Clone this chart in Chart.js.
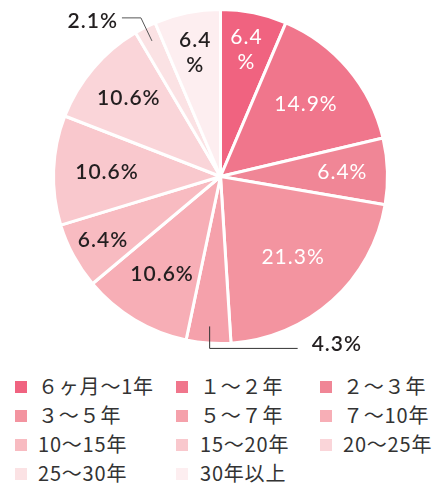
<!DOCTYPE html>
<html lang="ja">
<head>
<meta charset="utf-8">
<title>勤続年数</title>
<script src="https://cdn.jsdelivr.net/npm/chart.js@4.4.1/dist/chart.umd.min.js"></script>
<style>
  html, body { margin: 0; padding: 0; background: #fff; }
  body { width: 442px; height: 484px; position: relative; overflow: hidden; }
  #wrap { position: absolute; left: 0; top: 0; width: 442px; height: 360px; }
  #legend {
    position: absolute; left: 0; top: 372px; width: 442px;
    font-family: "Noto Sans CJK JP", sans-serif; font-size: 20px; color: #333;
  }
  .item { position: absolute; height: 28px; line-height: 28px; white-space: nowrap; letter-spacing: 0.8px; }
  .item i { position: absolute; top: 9px; width: 12px; height: 12px; }
  .item span { position: absolute; top: 0; }
</style>
</head>
<body>
<div id="wrap"><canvas id="pie"></canvas></div>
<div id="legend"></div>
<script>
// data
const categories = ['６ヶ月〜1年', '１〜２年', '２〜３年', '３〜５年', '５〜７年', '７〜10年',
  '10〜15年', '15〜20年', '20〜25年', '25〜30年', '30年以上'];
const shares = [6.4, 14.9, 6.4, 21.3, 4.3, 10.6, 6.4, 10.6, 10.6, 2.1, 6.4];
const colors = ['#f06380', '#f0768c', '#f08696', '#f394a0', '#f5a1ab', '#f7aeb6',
  '#f8bbc1', '#f9c8cd', '#fad5d9', '#fbe2e4', '#fdeef0'];

// label placement (fraction of radius), text colour, split into two lines
const labelR = [0.78, 0.67, 0.73, 0.65, 0, 0.68, 0.80, 0.68, 0.72, 0, 0.76];
const labelWhite = [true, true, true, true, false, false, false, false, false, false, false];
const twoLine = [true, false, false, false, false, false, false, false, false, false, true];

const labelPlugin = {
  id: 'sliceLabels',
  afterDatasetsDraw(chart) {
    const ctx = chart.ctx;
    const arcs = chart.getDatasetMeta(0).data;
    ctx.save();
    ctx.textBaseline = 'middle';
    ctx.letterSpacing = '1px';
    arcs.forEach((arc, i) => {
      const p = arc.getProps(['x', 'y', 'startAngle', 'endAngle', 'outerRadius']);
      const mid = (p.startAngle + p.endAngle) / 2;
      const txt = shares[i].toFixed(1) + '%';
      ctx.fillStyle = labelWhite[i] ? '#ffffff' : '#231f20';
      ctx.font = (labelWhite[i] ? '400' : '600') + ' 21px Lato, "Noto Sans", sans-serif';
      if (i === 4) {
        // outside label with elbow line below
        const sx = p.x + Math.cos(mid) * p.outerRadius * 0.9;
        const sy = p.y + Math.sin(mid) * p.outerRadius * 0.9;
        ctx.strokeStyle = '#333'; ctx.lineWidth = 1;
        ctx.beginPath();
        ctx.moveTo(sx, sy); ctx.lineTo(sx, sy + 22); ctx.lineTo(sx + 88, sy + 22);
        ctx.stroke();
        ctx.textAlign = 'left';
        ctx.fillText(txt, sx + 102, sy + 18);
        return;
      }
      if (i === 9) {
        const sx = p.x + Math.cos(mid) * p.outerRadius * 0.91;
        const sy = p.y + Math.sin(mid) * p.outerRadius * 0.91;
        ctx.strokeStyle = '#555'; ctx.lineWidth = 1;
        ctx.beginPath();
        ctx.moveTo(sx, sy); ctx.lineTo(sx - 11, sy - 23); ctx.lineTo(sx - 30, sy - 23);
        ctx.stroke();
        ctx.textAlign = 'right';
        ctx.fillText(txt, sx - 34, sy - 20);
        return;
      }
      const lx = p.x + Math.cos(mid) * p.outerRadius * labelR[i];
      const ly = p.y + Math.sin(mid) * p.outerRadius * labelR[i];
      ctx.textAlign = 'center';
      if (twoLine[i]) {
        ctx.fillText(shares[i].toFixed(1), lx, ly - 12);
        ctx.fillText('%', lx, ly + 13);
      } else {
        ctx.fillText(txt, lx, ly);
      }
    });
    ctx.restore();
  }
};

new Chart(document.getElementById('pie'), {
  type: 'pie',
  data: {
    labels: categories,
    datasets: [{
      data: shares,
      backgroundColor: colors,
      borderColor: '#ffffff',
      borderWidth: 3,
      hoverOffset: 0,
      offset: 0
    }]
  },
  options: {
    responsive: true,
    maintainAspectRatio: false,
    animation: false,
    events: [],
    layout: { padding: { left: 52, right: 53, top: 8, bottom: 15 } },
    plugins: { legend: { display: false }, tooltip: { enabled: false } }
  },
  plugins: [labelPlugin]
});

// legend in three columns
const colX = [15, 176, 320];
const legend = document.getElementById('legend');
categories.forEach((name, i) => {
  const row = Math.floor(i / 3), col = i % 3;
  const el = document.createElement('div');
  el.className = 'item';
  el.style.left = colX[col] + 'px';
  el.style.top = (row * 29) + 'px';
  el.innerHTML = '<i style="background:' + colors[i] + '"></i><span style="left:' +
    (col === 1 ? 24 : 23) + 'px">' + name + '</span>';
  legend.appendChild(el);
});
</script>
</body>
</html>
